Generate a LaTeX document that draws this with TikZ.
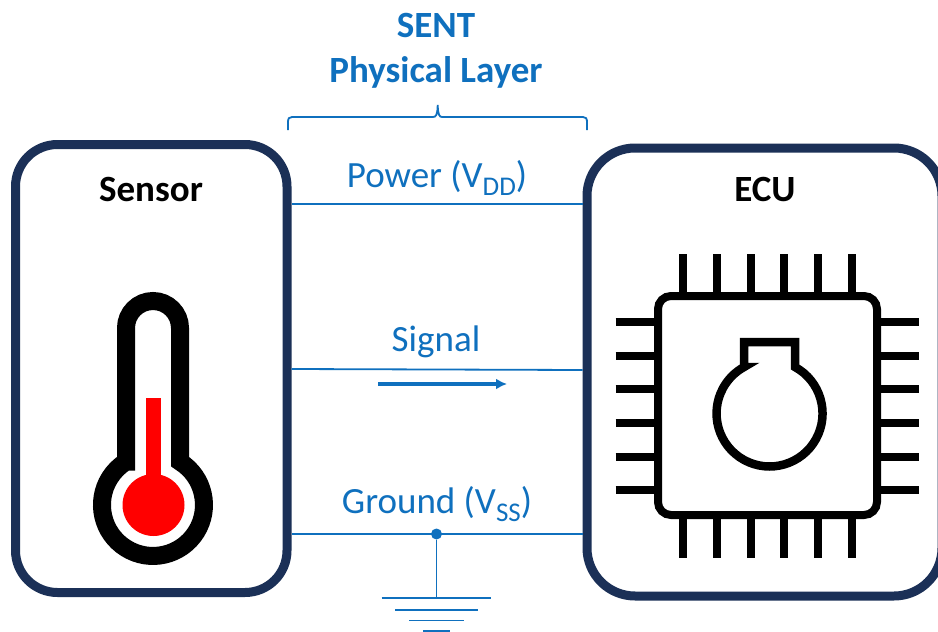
\documentclass[tikz,border=0pt]{standalone}
\usepackage{fontspec}
\setmainfont{Carlito}
\usetikzlibrary{arrows.meta}
\definecolor{navy}{HTML}{1B3057}
\definecolor{wire}{HTML}{0F70BE}
\tikzset{
  box/.style={draw=navy,line width=9pt,rounded corners=42pt,inner sep=0pt,fill=white},
  wireline/.style={draw=wire,line width=1.8pt},
  heading/.style={text=wire,font=\fontsize{37}{40}\selectfont\bfseries,anchor=base,inner sep=0pt},
  wirelabel/.style={text=wire,font=\fontsize{37}{40}\selectfont,anchor=base,inner sep=0pt},
  boxtitle/.style={text=black,font=\fontsize{37}{40}\selectfont\bfseries,anchor=base,inner sep=0pt},
  icon/.style={draw=black,line width=8pt}
}
\newcommand{\lowidx}[1]{\raisebox{-0.22em}{\fontsize{27}{27}\selectfont #1}}
\begin{document}
\begin{tikzpicture}[x=1pt,y=-1pt]
\useasboundingbox (0,0) rectangle (938,632);
\clip (0,0) rectangle (938,632);
\fill[white] (0,0) rectangle (938,632);
% boxes
\node[box,minimum width=271.5pt,minimum height=448pt] (sensor) at (151.25,368.5) {};
\node[box,minimum width=355pt,minimum height=448pt,rounded corners=48pt] (ecu) at (764.5,372) {};
% wires
\coordinate (pw) at (436,204);
\coordinate (swa) at (436,369);
\coordinate (swb) at (436,370);
\coordinate (gw) at (436.5,534);
\draw[wireline] (sensor.east |- pw) -- (ecu.west |- pw);
\draw[wireline] (sensor.east |- swa) -- (ecu.west |- swb);
\draw[wireline] (sensor.east |- gw) -- (ecu.west |- gw);
% titles
\node[heading] (sent) at (436,37) {SENT};
\node[heading] (layer) at (436,82) {Physical Layer};
\node[boxtitle] (sensortitle) at (151,201) {Sensor};
\node[boxtitle] (ecutitle) at (765,201) {ECU};
\node[wirelabel] (power) at (437,187) {Power (V\lowidx{DD})};
\node[wirelabel] (signal) at (436,351) {Signal};
\node[wirelabel] (ground) at (437,513) {Ground (V\lowidx{SS})};
% brace
\draw[wireline] (288,130) -- (288,122) .. controls (288,118.5) and (289,117) .. (292,117)
  -- (433,117) .. controls (436,117) and (437.5,115) .. (437.7,105)
  .. controls (438,115) and (439.5,117) .. (442,117)
  -- (583,117) .. controls (586,117) and (587,118.5) .. (587,122) -- (587,130);
% signal arrow
\coordinate (arrowstart) at (378,384);
\coordinate (arrowend) at (507,384);
\draw[draw=wire,line width=3.5pt,-{Latex[length=11pt,width=11pt]}] (arrowstart) -- (arrowend);
% ground
\node[circle,fill=wire,minimum size=11pt,inner sep=0pt] (dot) at (gw) {};
\coordinate (gnd) at (436.5,598);
\draw[wireline] (dot) -- (gnd);
\draw[wireline] (381.7,598) -- (491,598);
\draw[wireline] (395,610) -- (477.5,610);
\draw[wireline] (409,620.5) -- (464,620.5);
\draw[wireline] (423,631) -- (450,631);
% thermometer
\draw[black,line width=18pt,miter limit=10] (126,461.7) -- (126,328) arc (180:360:27) -- (180,461.7) arc (-58:238:51) -- cycle;
\fill[red] (153.5,505) circle (31);
\fill[red] (146,398) rectangle (161,485);
% chip
\draw[icon,rounded corners=13pt] (658,296) rectangle (877,515);
\foreach \px in {683.3,717,750.7,784.3,818,851.7} {
  \draw[icon] (\px,254) -- (\px,292);
  \draw[icon] (\px,519) -- (\px,558);
}
\foreach \py in {322,355.7,389.3,423,456.7,490.3} {
  \draw[icon] (615.7,\py) -- (654,\py);
  \draw[icon] (881,\py) -- (919,\py);
}
\draw[icon,line width=8.5pt] (744,367) -- (744,342) -- (795,342) -- (795,367) arc (-61.3:241.3:53) -- cycle;
\end{tikzpicture}
\end{document}
